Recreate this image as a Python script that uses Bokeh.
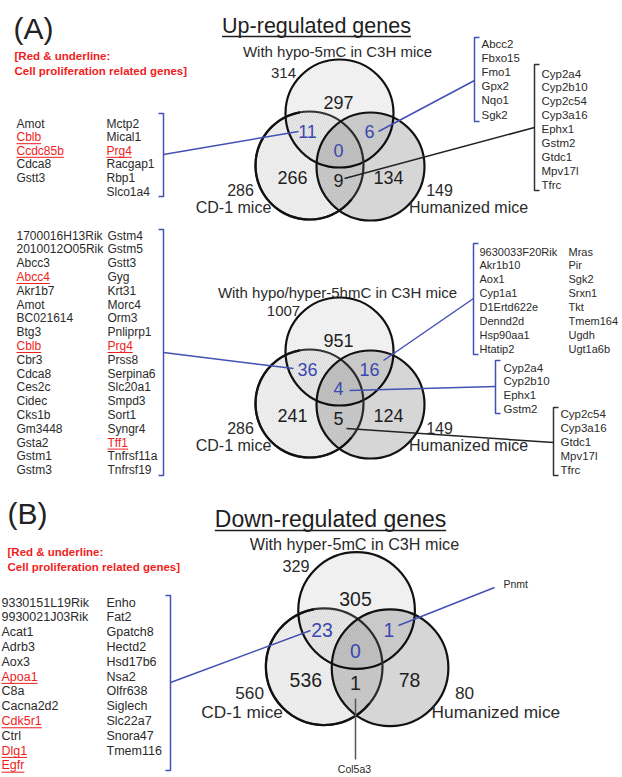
from bokeh.plotting import figure
from bokeh.models import Range1d
from bokeh.core.properties import value
from bokeh.embed import file_html
from bokeh.resources import INLINE

FONT = "Liberation Sans"

# ------------------------------------------------------------------ data
panel_a_label = "(A)"
panel_b_label = "(B)"
legend_lines = ["[Red & underline:", "Cell proliferation related genes]"]
title_up = "Up-regulated genes"
title_down = "Down-regulated genes"

# counts order: C3H only, C3H&CD1, C3H&Hum, all three, CD1 only, CD1&Hum, Hum only
v1_c3h_name = "With hypo-5mC in C3H mice"
v1_c3h_total = "314"
v1_counts = ["297", "11", "6", "0", "266", "9", "134"]
v1_cd1_total = "286"
v1_hum_total = "149"

v2_c3h_name = "With hypo/hyper-5hmC in C3H mice"
v2_c3h_total = "1007"
v2_counts = ["951", "36", "16", "4", "241", "5", "124"]
v2_cd1_total = "286"
v2_hum_total = "149"

v3_c3h_name = "With hyper-5mC in C3H mice"
v3_c3h_total = "329"
v3_counts = ["305", "23", "1", "0", "536", "1", "78"]
v3_cd1_total = "560"
v3_hum_total = "80"

cd1_name = "CD-1 mice"
hum_name = "Humanized mice"

v1_list_left_1 = ["Amot", "Cblb", "Ccdc85b", "Cdca8", "Gstt3"]
v1_list_left_2 = ["Mctp2", "Mical1", "Prg4", "Racgap1", "Rbp1", "Slco1a4"]
v1_list_c3h_hum = ["Abcc2", "Fbxo15", "Fmo1", "Gpx2", "Nqo1", "Sgk2"]
v1_list_cd1_hum = ["Cyp2a4", "Cyp2b10", "Cyp2c54", "Cyp3a16", "Ephx1", "Gstm2",
                   "Gtdc1", "Mpv17l", "Tfrc"]

v2_list_left_1 = ["1700016H13Rik", "2010012O05Rik", "Abcc3", "Abcc4", "Akr1b7", "Amot",
                  "BC021614", "Btg3", "Cblb", "Cbr3", "Cdca8", "Ces2c", "Cidec", "Cks1b",
                  "Gm3448", "Gsta2", "Gstm1", "Gstm3"]
v2_list_left_2 = ["Gstm4", "Gstm5", "Gstt3", "Gyg", "Krt31", "Morc4", "Orm3", "Pnliprp1",
                  "Prg4", "Prss8", "Serpina6", "Slc20a1", "Smpd3", "Sort1", "Syngr4",
                  "Tff1", "Tnfrsf11a", "Tnfrsf19"]
v2_list_c3h_hum_1 = ["9630033F20Rik", "Akr1b10", "Aox1", "Cyp1a1", "D1Ertd622e",
                     "Dennd2d", "Hsp90aa1", "Htatip2"]
v2_list_c3h_hum_2 = ["Mras", "Pir", "Sgk2", "Srxn1", "Tkt", "Tmem164", "Ugdh", "Ugt1a6b"]
v2_list_all = ["Cyp2a4", "Cyp2b10", "Ephx1", "Gstm2"]
v2_list_cd1_hum = ["Cyp2c54", "Cyp3a16", "Gtdc1", "Mpv17l", "Tfrc"]

v3_list_left_1 = ["9330151L19Rik", "9930021J03Rik", "Acat1", "Adrb3", "Aox3", "Apoa1",
                  "C8a", "Cacna2d2", "Cdk5r1", "Ctrl", "Dlg1", "Egfr"]
v3_list_left_2 = ["Enho", "Fat2", "Gpatch8", "Hectd2", "Hsd17b6", "Nsa2", "Olfr638",
                  "Siglech", "Slc22a7", "Snora47", "Tmem116"]
v3_list_c3h_hum = ["Pnmt"]
v3_list_cd1_hum = ["Col5a3"]

red_genes = ["Cblb", "Ccdc85b", "Prg4", "Abcc4", "Tff1", "Apoa1", "Cdk5r1", "Dlg1", "Egfr"]

# ------------------------------------------------------------------ helpers
W = {' ': 278, '!': 278, '&': 667, '(': 333, ')': 333, '-': 333, '/': 278, ':': 278,
     '[': 278, ']': 278}
for ch in "0123456789":
    W[ch] = 556
W.update(dict(zip("ABCDEFGHIJKLMNOPQRSTUVWXYZ",
                  [667, 667, 722, 722, 667, 611, 778, 722, 278, 500, 667, 556, 833, 722,
                   778, 667, 778, 722, 667, 611, 722, 667, 944, 667, 667, 611])))
W.update(dict(zip("abcdefghijklmnopqrstuvwxyz",
                  [556, 556, 500, 556, 556, 278, 556, 556, 222, 222, 500, 222, 833, 556,
                   556, 556, 556, 333, 500, 278, 556, 500, 722, 500, 500, 500])))


def tw(s, size, bold=False):
    return sum(W.get(c, 556) for c in s) / 1000.0 * size * (1.07 if bold else 1.0)


TXT = "#2b2b2b"
BLUE = "#4350b4"
BLUE_NUM = "#3a48b0"
RED = "#f01d1d"

p = figure(width=622, height=777, output_backend="svg", toolbar_location=None,
           x_range=Range1d(0, 622), y_range=Range1d(777, 0), min_border=0,
           background_fill_color="white", border_fill_color="white")
p.axis.visible = False
p.grid.visible = False
p.outline_line_color = None


def txt(x, y, s, size, color=TXT, align="left", bold=False):
    p.text(x=[x], y=[y], text=[s], text_font=value(FONT),
           text_font_size=f"{size}px", text_color=color, text_align=align,
           text_baseline="middle", text_font_style="bold" if bold else "normal")


def underline(x0, y, s, size, color, bold=False, align="left", lw=1.0):
    w = tw(s, size, bold)
    if align == "center":
        x0 = x0 - w / 2
    p.segment(x0=[x0], y0=[y], x1=[x0 + w], y1=[y], line_color=color, line_width=lw)


def gene_list(genes, x, y0, dy, size):
    for i, g in enumerate(genes):
        y = y0 + i * dy
        if g in red_genes:
            txt(x, y, g, size, RED)
            underline(x, y + 0.55 * size, g, size, RED)
        else:
            txt(x, y, g, size, TXT)


def bracket(x, y0, y1, side, color=BLUE, tick=5):
    d = -tick if side == "right" else tick
    p.line(x=[x + d, x, x, x + d], y=[y0, y0, y1, y1], line_color=color, line_width=1.5)


def connector(x0, y0, x1, y1, color=BLUE, lw=1.5):
    p.segment(x0=[x0], y0=[y0], x1=[x1], y1=[y1], line_color=color, line_width=lw)


# base venn layout (relative to the centre label), scaled per venn
BASE_C = (338, 150)
CIRCLES = [(339, 113), (309, 165), (370, 166)]
R0 = 54
LABELS = [(338, 102), (307, 131), (369, 131), (338, 150), (292, 177), (338, 180), (388, 177)]
LAB_BLUE = [False, True, True, True, False, False, False]


def venn(ox, oy, s, counts, c3h_name, c3h_total, cd1_total, hum_total, title_dy=0.0,
         num_size=18, lab_size=15):
    def T(pt):
        return ox + s * (pt[0] - BASE_C[0]), oy + s * (pt[1] - BASE_C[1])
    r = R0 * s
    (tx, ty), (lx, ly), (rx, ry) = [T(c) for c in CIRCLES]
    # fills
    p.circle(x=[tx], y=[ty], radius=r, fill_color="#f4f4f4", fill_alpha=1.0,
             line_color=None, hatch_pattern="/", hatch_color="#e2e2e2",
             hatch_alpha=0.6, hatch_scale=4, hatch_weight=0.8)
    p.circle(x=[lx], y=[ly], radius=r, fill_color="#000000", fill_alpha=0.10,
             line_color=None, hatch_pattern="/", hatch_color="#ffffff",
             hatch_alpha=0.55, hatch_scale=4, hatch_weight=1.0)
    p.circle(x=[tx], y=[ty], radius=r, fill_color=None, line_color="#111111",
             line_width=2.2)
    p.circle(x=[lx], y=[ly], radius=r, fill_color=None, line_color="#333333",
             line_width=2.2)
    p.circle(x=[rx], y=[ry], radius=r, fill_color="#000000", fill_alpha=0.16,
             line_color=None)
    # outer outlines redrawn black where visible
    p.circle(x=[rx], y=[ry], radius=r, fill_color=None, line_color="#111111",
             line_width=2.2)
    p.arc(x=[lx], y=[ly], radius=r, start_angle=1.75, end_angle=5.6,
          direction="anticlock", line_color="#111111", line_width=2.2)
    # counts
    for (px_, py_), c, b in zip(LABELS, counts, LAB_BLUE):
        x, y = T((px_, py_))
        txt(x, y, c, num_size * s, BLUE_NUM if b else "#1e1e1e", align="center")
    # set names and totals
    x, y = T((337, 51))
    txt(x, y + title_dy, c3h_name, lab_size * s, align="center")
    x, y = T((283, 72))
    txt(x, y, c3h_total, lab_size * s, align="center")
    x, y = T((240, 189))
    txt(x, y, cd1_total, (lab_size + 1) * s, align="center")
    x, y = T((233, 207))
    txt(x, y, cd1_name, (lab_size + 1) * s, align="center")
    x, y = T((439, 189))
    txt(x, y, hum_total, (lab_size + 1) * s, align="center")
    x, y = T((468, 207))
    txt(x, y, hum_name, (lab_size + 1) * s, align="center")


# ------------------------------------------------------------------ panel A
txt(13, 28, panel_a_label, 30, "#222222")
txt(14, 55, legend_lines[0], 11.5, RED, bold=True)
txt(14, 70, legend_lines[1], 11.5, RED, bold=True)
txt(316, 25, title_up, 21.5, "#1e1e1e", align="center")
underline(316, 36, title_up, 21.5, "#1e1e1e", align="center", lw=1.5)

venn(338, 150, 1.0, v1_counts, v1_c3h_name, v1_c3h_total, v1_cd1_total, v1_hum_total)

gene_list(v1_list_left_1, 16, 123, 13.6, 12)
gene_list(v1_list_left_2, 106, 123, 13.6, 12)
bracket(163, 113, 196, "right")
connector(163, 154, 298, 131)

gene_list(v1_list_c3h_hum, 481, 43, 14.2, 11.5)
bracket(474, 37, 121, "left")
connector(474, 80, 378, 131)

gene_list(v1_list_cd1_hum, 541, 73, 13.9, 11.5)
bracket(534, 64, 190, "left", color="#333333")
connector(534, 127, 344, 178, color="#222222")

# second venn
venn(338, 388, 1.0, v2_counts, v2_c3h_name, v2_c3h_total, v2_cd1_total, v2_hum_total,
     title_dy=3)

gene_list(v2_list_left_1, 16, 235, 13.8, 12)
gene_list(v2_list_left_2, 107, 235, 13.8, 12)
bracket(163, 229, 475, "right")
connector(163, 352, 293, 368)

gene_list(v2_list_c3h_hum_1, 479, 251, 13.9, 11)
gene_list(v2_list_c3h_hum_2, 568, 251, 13.9, 11)
bracket(473, 243, 354, "left")
connector(473, 298, 383, 360)

gene_list(v2_list_all, 503, 367, 13.7, 11.5)
bracket(495, 360, 413, "left")
connector(495, 386, 349, 390)

gene_list(v2_list_cd1_hum, 560, 413, 14.0, 11.5)
bracket(553, 407, 475, "left", color="#333333")
connector(553, 442, 346, 428, color="#222222")

# ------------------------------------------------------------------ panel B
txt(7, 513, panel_b_label, 30, "#222222")
txt(7, 551, legend_lines[0], 11.5, RED, bold=True)
txt(7, 566, legend_lines[1], 11.5, RED, bold=True)
txt(330, 518, title_down, 23, "#1e1e1e", align="center")
underline(330, 530, title_down, 23, "#1e1e1e", align="center", lw=1.5)

venn(355, 650, 1.08, v3_counts, v3_c3h_name, v3_c3h_total, v3_cd1_total, v3_hum_total,
     num_size=18, lab_size=15)

gene_list(v3_list_left_1, 1, 602, 14.8, 12.5)
gene_list(v3_list_left_2, 106, 602, 14.8, 12.5)
bracket(170, 595, 770, "right")
connector(170, 682, 310, 630)

txt(503, 583, v3_list_c3h_hum[0], 10.5)
connector(398, 625, 494, 587)
txt(354, 768, v3_list_cd1_hum[0], 10.5, align="center")
connector(355, 698, 355, 759, color="#555555")

open("out.html", "w").write(file_html(p, INLINE))
